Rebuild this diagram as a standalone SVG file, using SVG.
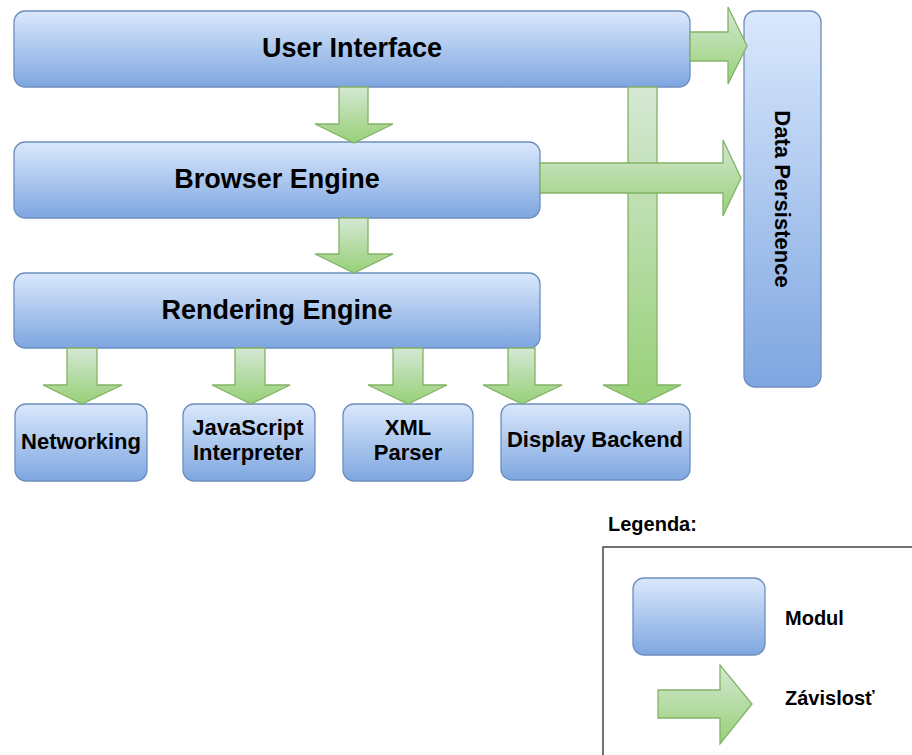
<svg xmlns="http://www.w3.org/2000/svg" width="912" height="755" viewBox="0 0 912 755">
  <defs>
    <linearGradient id="gBlue" x1="0" y1="0" x2="0" y2="1">
      <stop offset="0" stop-color="#dae8fc"/>
      <stop offset="1" stop-color="#7ea6e0"/>
    </linearGradient>
    <linearGradient id="gGreen" x1="0" y1="0" x2="0" y2="1">
      <stop offset="0" stop-color="#d5e8d4"/>
      <stop offset="1" stop-color="#97d077"/>
    </linearGradient>
  </defs>
  <style>
    .mod { fill: url(#gBlue); stroke: #6c8ebf; stroke-width: 1.3; }
    .dep { fill: url(#gGreen); stroke: #82b366; stroke-width: 1.3; stroke-linejoin: miter; }
    .t { font-family: "Liberation Sans", Arial, sans-serif; font-weight: bold; fill: #000; text-anchor: middle; }
    .big { font-size: 27px; }
    .mid { font-size: 22px; }
    .leg { font-family: "Liberation Sans", Arial, sans-serif; font-weight: bold; fill: #000; font-size: 20px; }
  </style>

  <rect width="912" height="755" fill="#ffffff"/>

  <!-- modules -->
  <g id="user-interface">
    <rect class="mod" x="14" y="11" width="676" height="76" rx="11"/>
    <text class="t big" x="352" y="57">User Interface</text>
  </g>
  <g id="browser-engine">
    <rect class="mod" x="14" y="142" width="526" height="76" rx="11"/>
    <text class="t big" x="277" y="188">Browser Engine</text>
  </g>
  <g id="rendering-engine">
    <rect class="mod" x="14" y="273" width="526" height="75" rx="11"/>
    <text class="t big" x="277" y="319">Rendering Engine</text>
  </g>
  <g id="data-persistence">
    <rect class="mod" x="744" y="11" width="77" height="376" rx="11"/>
    <text class="t mid" transform="translate(775,199) rotate(90)" x="0" y="0">Data Persistence</text>
  </g>
  <g id="networking">
    <rect class="mod" x="15" y="404" width="132" height="77" rx="11"/>
    <text class="t mid" x="81" y="449">Networking</text>
  </g>
  <g id="javascript-interpreter">
    <rect class="mod" x="183" y="404" width="132" height="77" rx="11"/>
    <text class="t mid" x="248" y="435">JavaScript</text>
    <text class="t mid" x="248" y="460">Interpreter</text>
  </g>
  <g id="xml-parser">
    <rect class="mod" x="343" y="404" width="130" height="77" rx="11"/>
    <text class="t mid" x="408" y="435">XML</text>
    <text class="t mid" x="408" y="460">Parser</text>
  </g>
  <g id="display-backend">
    <rect class="mod" x="501" y="404" width="189" height="76" rx="11"/>
    <text class="t mid" x="595" y="447">Display Backend</text>
  </g>

  <!-- dependency arrows -->
  <g id="connectors">
    <path class="dep" d="M628,87 H657 V385 H681 L642,404 L603,385 H628 Z"/>
    <path class="dep" d="M339,87 H368 V124 H393 L354,143 L315,124 H339 Z"/>
    <path class="dep" d="M339,218 H368 V254 H393 L354,273 L315,254 H339 Z"/>
    <path class="dep" d="M67,348 H97 V385 H122 L82,404 L43,385 H67 Z"/>
    <path class="dep" d="M235,348 H265 V385 H290 L251,404 L212,385 H235 Z"/>
    <path class="dep" d="M393,348 H423 V385 H447 L408,404 L368,385 H393 Z"/>
    <path class="dep" d="M508,348 H535 V385 H562 L522,404 L483,385 H508 Z"/>
    <path class="dep" d="M690,32 H728 V7 L747,46 L728,84 V61 H690 Z"/>
    <path class="dep" d="M540,163 H723 V140 L741,178 L723,216 V193 H540 Z"/>
  </g>

  <!-- legend -->
  <g id="legend">
    <text class="leg" x="608" y="531">Legenda:</text>
    <rect x="603" y="547" width="330" height="230" fill="#ffffff" stroke="#444" stroke-width="1.5"/>
    <rect class="mod" x="633" y="578" width="132" height="77" rx="11"/>
    <text class="leg" x="785" y="625">Modul</text>
    <path class="dep" d="M658,690 H720 V665 L752,704 L720,744 V718 H658 Z"/>
    <text class="leg" x="785" y="705">Závislosť</text>
  </g>
</svg>
